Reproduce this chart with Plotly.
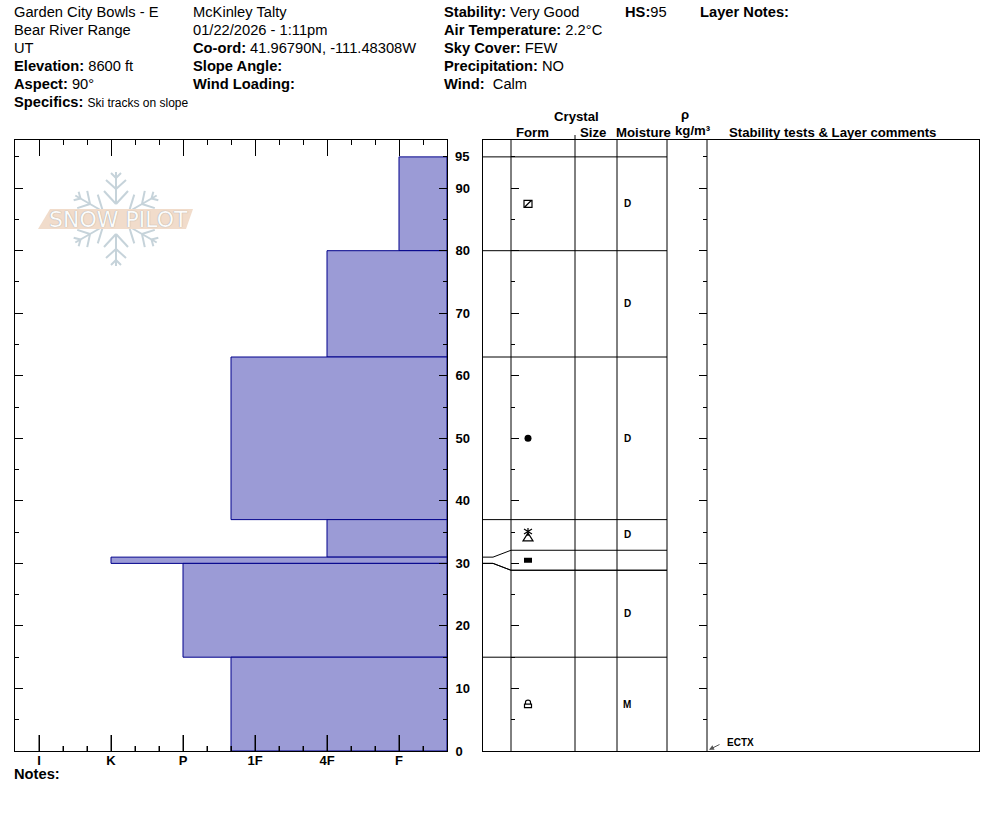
import math
import plotly.graph_objects as go

# ---------- data ----------
layer_top = [95, 80, 63, 37, 31, 30, 15]
layer_bottom = [80, 63, 37, 31, 30, 15, 0]
layer_hardness = [1, 2, 3.3333, 2, 5, 4, 3.3333]
display_top = [95, 80, 63, 37, 32.1, 28.9, 15]
display_bottom = [80, 63, 37, 32.1, 28.9, 15, 0]
layer_moisture = ["D", "D", "D", "D", "", "D", "M"]
hardness_values = [1, 2, 3, 4, 5, 6]
hardness_labels = ["F", "4F", "1F", "P", "K", "I"]
depth_ticks = [0, 10, 20, 30, 40, 50, 60, 70, 80, 90]
snow_height = 95

header = [
    (14, 12, "Garden City Bowls - E"), (14, 30, "Bear River Range"), (14, 48, "UT"),
    (14, 66, "<b>Elevation:</b> 8600 ft"), (14, 84, "<b>Aspect:</b> 90°"),
    (193, 12, "McKinley Talty"), (193, 30, "01/22/2026 - 1:11pm"),
    (193, 48, "<b>Co-ord:</b> 41.96790N, -111.48308W"), (193, 66, "<b>Slope Angle:</b>"),
    (193, 84, "<b>Wind Loading:</b>"),
    (444, 12, "<b>Stability:</b> Very Good"), (444, 30, "<b>Air Temperature:</b> 2.2°C"),
    (444, 48, "<b>Sky Cover:</b> FEW"), (444, 66, "<b>Precipitation:</b> NO"),
    (444, 84, "<b>Wind:</b>  Calm"), (625, 12, "<b>HS:</b>95"), (700, 12, "<b>Layer Notes:</b>"),
    (14, 102, "<b>Specifics:</b> <span style='font-size:12px'>Ski tracks on slope</span>"),
    (14, 774, "<b>Notes:</b>"),
]
col_titles = [(576, 117, "Crystal"), (532, 132, "Form"), (593, 132, "Size"), (643, 132, "Moisture"),
              (685, 115, "ρ"), (693, 130, "kg/m³"), (832, 132, "Stability tests &amp; Layer comments")]

# ---------- layout constants ----------
W, H = 994, 840
Y_MAX = 97.7
FONT = "Liberation Sans, Arial, sans-serif"
BAR_FILL, BAR_LINE = "#9B9BD6", "#00008B"
col_edges = [511, 575, 617, 667, 707]
FORM_X, MOIST_X = 528, 627
px = lambda x: x / W
py = lambda y: 1 - y / H

fig = go.Figure()

# hardness profile
fig.add_trace(go.Bar(
    y=[(a + b) / 2 for a, b in zip(layer_top, layer_bottom)],
    width=[a - b for a, b in zip(layer_top, layer_bottom)],
    x=[h - 1 / 3 for h in layer_hardness], base=1 / 3, orientation="h",
    marker=dict(color=BAR_FILL, line=dict(color=BAR_LINE, width=1)),
    xaxis="x", yaxis="y", hoverinfo="skip", showlegend=False))

# layer boundaries and column rules
def seg(xs, ys, color="black", w=1):
    fig.add_trace(go.Scatter(x=xs, y=ys, mode="lines", line=dict(color=color, width=w),
                             xaxis="x2", yaxis="y2", hoverinfo="skip", showlegend=False))

for c in col_edges:
    seg([c, c], [0, Y_MAX])
for top, dtop in zip(layer_top, display_top):
    seg([483, 493, 511, 667], [top, top, dtop, dtop])
seg([483, 493, 511, 667], [30, 30, 28.9, 28.9])

mids = [(a + b) / 2 for a, b in zip(display_top, display_bottom)]
# tick carriers: inner panel and top edge of the hardness panel
fig.add_trace(go.Scatter(x=[511], y=[0], mode="lines", xaxis="x3", yaxis="y3",
                         hoverinfo="skip", showlegend=False))
fig.add_trace(go.Scatter(x=[1], y=[0], mode="lines", xaxis="x4", yaxis="y",
                         hoverinfo="skip", showlegend=False))

# grain form glyphs
glyphs = {
    "NF": "M-4,-3.5 L4,-3.5 L4,3.5 L-4,3.5 Z M-3,-3 L3,3",
    "NF2": "M-5,-6 L5,-6 L0,2 Z M-4,6 L4,1 M4,6 L-4,1 M0,7 L0,-1",
    "MF": "M-4,-2.5 L4,-2.5 L4,2.5 L-4,2.5 Z",
    "MFC": "M-3.5,-3.5 L3.5,-3.5 L3.5,0 L-3.5,0 Z M-2.5,0 L-2.5,2 Q-2.5,4 0,4 Q2.5,4 2.5,2 L2.5,0",
}
shapes = []
form_map = [("NF", 0), ("NF2", 3), ("MF", 4), ("MFC", 6)]
for key, i in form_map:
    shapes.append(dict(type="path", xref="x2", yref="y2", xsizemode="pixel", ysizemode="pixel",
                       xanchor=FORM_X, yanchor=mids[i], path=glyphs[key],
                       line=dict(color="black", width=0 if key == "MF" else 1.2),
                       fillcolor="black" if key == "MF" else "rgba(0,0,0,0)"))
shapes.append(dict(type="circle", xref="x2", yref="y2", xsizemode="pixel", ysizemode="pixel",
                   xanchor=FORM_X, yanchor=mids[2], x0=-3.5, x1=3.5, y0=-3.5, y1=3.5,
                   line=dict(color="black", width=0), fillcolor="black"))

# small tick above the Size column
shapes.append(dict(type="line", xref="paper", yref="paper", x0=px(575), x1=px(575), y0=py(135), y1=py(140),
                   line=dict(color="black", width=1)))

# hardness ticks rising from the bottom edge (one every 24 px of the 15..447 panel)
for n in range(1, 18):
    tick_px = 15 + 24 * n
    rise = 16 if n % 3 == 1 else 5
    shapes.append(dict(type="line", xref="paper", yref="paper", x0=px(tick_px), x1=px(tick_px),
                       y0=py(751), y1=py(751 - rise), layer="above", line=dict(color="black", width=1)))

# logo
LOGO_C = "#C6D3DA"
cx, cy = 116, 219
def rot(r, d, a):
    return (cx + r * math.sin(a) + d * math.cos(a), cy - r * math.cos(a) + d * math.sin(a))
for k in range(6):
    a = k * math.pi / 3
    segs = [[(16, 0), (47, 0)], [(15, 0), (28, -12)], [(15, 0), (28, 12)],
            [(30, 0), (39, -10)], [(30, 0), (39, 10)], [(41, 0), (46, -5)], [(41, 0), (46, 5)]]
    for (r0, d0), (r1, d1) in segs:
        x0, y0 = rot(r0, d0, a)
        x1, y1 = rot(r1, d1, a)
        shapes.append(dict(type="line", xref="paper", yref="paper", x0=px(x0), y0=py(y0), x1=px(x1), y1=py(y1),
                           line=dict(color=LOGO_C, width=2)))
banner = [(38, 229), (50, 209), (193, 209), (186, 229)]
shapes.append(dict(type="path", xref="paper", yref="paper", line=dict(width=0), fillcolor="#F1DCCB",
                   path="M" + " L".join(f"{px(x)},{py(y)}" for x, y in banner) + " Z"))

annotations = []
for x, y, t in header:
    annotations.append(dict(xref="paper", yref="paper", x=px(x), y=py(y), text=t, showarrow=False,
                            xanchor="left", yanchor="middle", xshift=-2, align="left",
                            font=dict(family=FONT, size=14.7, color="black")))
for x, y, t in col_titles:
    annotations.append(dict(xref="paper", yref="paper", x=px(x), y=py(y), text=f"<b>{t}</b>", showarrow=False,
                            xanchor="center", yanchor="middle",
                            font=dict(family=FONT, size=13.2, color="black")))
for m, letter in zip(mids, layer_moisture):
    if letter:
        annotations.append(dict(xref="x2", yref="y2", x=MOIST_X, y=m, text=f"<b>{letter}</b>", showarrow=False,
                                xanchor="center", yanchor="middle",
                                font=dict(family=FONT, size=10, color="black")))
annotations.append(dict(xref="paper", yref="paper", x=px(118), y=py(220), text="SNOW PILOT", showarrow=False,
                        xanchor="center", yanchor="middle",
                        font=dict(family="DejaVu Sans", size=22, color="#FBFBFB", shadow="0 0 1px #8a8a8a")))
annotations.append(dict(xref="x2", yref="y2", x=740, y=1.3, text="<b>ECTX</b>", showarrow=False,
                        font=dict(family=FONT, size=10, color="black")))
annotations.append(dict(xref="x2", yref="y2", x=709, y=0.2, axref="pixel", ayref="pixel", ax=12, ay=-6, text="",
                        showarrow=True, arrowhead=2, arrowsize=1, arrowwidth=1, arrowcolor="#555555"))
annotations.append(dict(xref="paper", yref="y", x=px(455), y=snow_height, text=f"<b>{snow_height}</b>", showarrow=False,
                        xanchor="left", yanchor="middle", xshift=-2,
                        font=dict(family=FONT, size=13, color="black")))

frame = dict(showline=True, linecolor="black", linewidth=1, mirror=True, showgrid=False, zeroline=False)
frame_t = {**frame, "mirror": "ticks"}
tickf = dict(family=FONT, size=13, color="black", weight="bold")
hard_ticks = dict(tickvals=hardness_values, ticks="inside", ticklen=16, tickwidth=1, tickcolor="black",
                  minor=dict(dtick=1 / 3, tick0=0, ticks="inside", ticklen=5, tickcolor="black", tickwidth=1))
hard_range = dict(domain=[px(15), px(447)], range=[6 + 1 / 3, 1 / 3])

fig.update_layout(
    width=W, height=H, margin=dict(l=0, r=0, t=0, b=0, pad=0, autoexpand=False), autosize=False,
    paper_bgcolor="white", plot_bgcolor="rgba(0,0,0,0)", barmode="overlay", showlegend=False,
    shapes=shapes, annotations=annotations,
    xaxis=dict(**frame, **hard_range, anchor="y", ticktext=hardness_labels, tickfont=tickf,
               ticklabelstandoff=-3, **hard_ticks),
    xaxis4=dict(**hard_range, anchor="y", overlaying="x", side="top", showline=False, showgrid=False,
                zeroline=False, showticklabels=False, **hard_ticks),
    yaxis=dict(**frame_t, domain=[py(751), py(140)], range=[0, Y_MAX], anchor="x", side="right",
               tickvals=depth_ticks, ticks="inside", ticklen=8, tickwidth=1, tickcolor="black", tickfont=tickf,
               ticklabelstandoff=5,
               minor=dict(dtick=10, tick0=5, ticks="inside", ticklen=4, tickcolor="black", tickwidth=1)),
    xaxis2=dict(**frame, domain=[px(483), px(979)], range=[483, 979], anchor="y2", showticklabels=False, ticks=""),
    yaxis2=dict(**frame, domain=[py(751), py(140)], range=[0, Y_MAX], anchor="x2", showticklabels=False, ticks=""),
    xaxis3=dict(domain=[px(511), px(707)], range=[511, 707], anchor="y3", visible=False),
    yaxis3=dict(domain=[py(751), py(140)], range=[0, Y_MAX], anchor="x3", showline=False, mirror="ticks",
                showgrid=False, zeroline=False, showticklabels=False, tickvals=depth_ticks,
                ticks="inside", ticklen=8, tickwidth=1, tickcolor="black",
                minor=dict(dtick=10, tick0=5, ticks="inside", ticklen=4, tickcolor="black", tickwidth=1)),
)
fig.write_html("out.html", config=dict(displayModeBar=False),
               post_script="document.body.style.margin='0';")
